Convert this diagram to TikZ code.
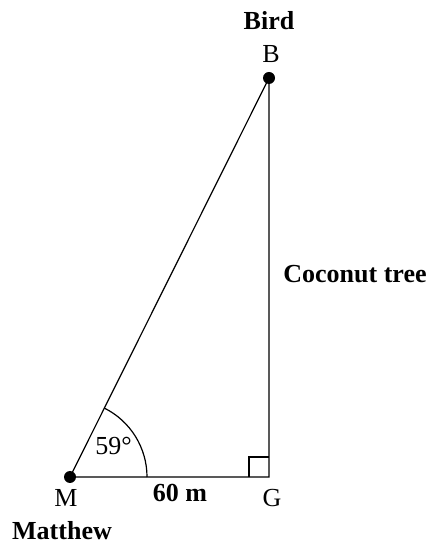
\documentclass[tikz,border=0pt]{standalone}
\usepackage{fontspec}
\setmainfont{Liberation Serif}
\usetikzlibrary{positioning, angles}

\begin{document}
\begin{tikzpicture}[
    x=0.5pt, y=0.5pt,
    side/.style = {line width=0.6pt, black},
    dot/.style = {circle, fill=black, inner sep=0pt, minimum size=6pt},
    lbl/.style = {font=\fontsize{13}{15}\selectfont\bfseries, inner sep=0pt},
    pt/.style = {font=\fontsize{13}{15}\selectfont, inner sep=0pt}
]
\useasboundingbox (0,0) rectangle (430,544);

% ── Vertices ──
\coordinate (M) at (70, 67);
\coordinate (G) at (269, 67);
\coordinate (B) at (269, 466);

% ── Triangle ──
\draw[side] (M) -- (G) -- (B) -- cycle;
\pic[draw, side, angle radius=38.5pt] {angle = G--M--B};
\pic[draw, side, angle radius=10pt] {right angle = M--G--B};

% ── Dots ──
\node[dot] (Mdot) at (M) {};
\node[dot] (Bdot) at (B) {};

% ── Labels ──
\node[lbl, anchor=base] (bird) at (269, 514) {Bird};
\node[pt, anchor=base] (Blbl) at (271, 481) {B};
\node[lbl, anchor=base west] (tree) at (283, 261) {Coconut tree};
\node[pt, anchor=base west] (ang) at (95, 89) {59°};
\node[lbl, anchor=base] (dist) at (180, 42) {60 m};
\node[pt, anchor=base] (Mlbl) at (66, 37) {M};
\node[pt, anchor=base] (Glbl) at (272, 37) {G};
\node[lbl, anchor=base] (matt) at (62, 4) {Matthew};

\end{tikzpicture}
\end{document}
